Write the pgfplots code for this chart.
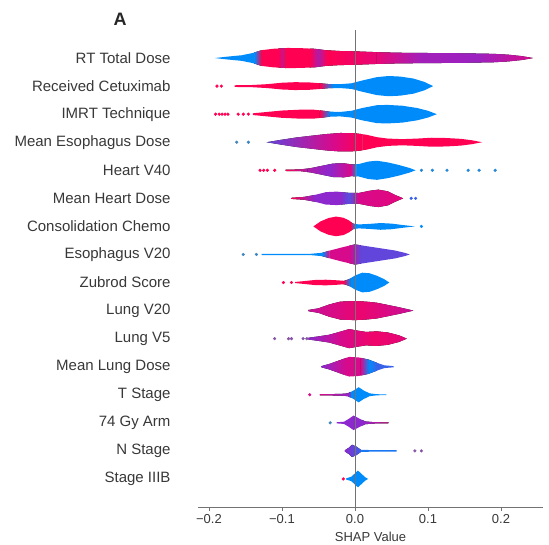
\documentclass[border=0pt]{standalone}
\usepackage{fontspec}
\setmainfont{Liberation Sans}
\usepackage{pgfplots}
\pgfplotsset{compat=1.18}
\usepackage{pgfplotstable}
\usepgfplotslibrary{fillbetween}

\definecolor{sr}{RGB}{255,0,82}
\definecolor{sb}{RGB}{0,139,251}
\definecolor{sp}{RGB}{140,40,205}
\definecolor{sm}{RGB}{215,10,140}

% violin profiles: x = SHAP value, w = half width (row units)
\pgfplotstableread{
x w
-0.192 0
-0.175 0.05
-0.155 0.10
-0.140 0.18
-0.128 0.28
-0.112 0.33
-0.092 0.36
-0.072 0.35
-0.055 0.33
-0.040 0.28
-0.020 0.25
0.000 0.24
0.030 0.21
0.060 0.19
0.100 0.18
0.150 0.17
0.190 0.15
0.210 0.12
0.228 0.07
0.244 0
}\tRT
\pgfplotstableread{
x w
-0.165 0.03
-0.140 0.04
-0.120 0.07
-0.100 0.12
-0.082 0.14
-0.062 0.13
-0.047 0.10
-0.035 0.07
-0.020 0.07
-0.005 0.10
0.010 0.20
0.030 0.32
0.046 0.36
0.062 0.34
0.080 0.27
0.095 0.15
0.107 0
}\tCet
\pgfplotstableread{
x w
-0.140 0.03
-0.120 0.08
-0.100 0.13
-0.075 0.16
-0.057 0.16
-0.046 0.13
-0.035 0.09
-0.020 0.08
-0.005 0.12
0.010 0.22
0.030 0.32
0.045 0.33
0.065 0.30
0.085 0.22
0.100 0.12
0.112 0
}\tIMRT
\pgfplotstableread{
x w
-0.121 0
-0.100 0.09
-0.080 0.17
-0.060 0.23
-0.040 0.29
-0.020 0.33
0.000 0.32
0.015 0.27
0.030 0.18
0.045 0.13
0.065 0.11
0.085 0.13
0.105 0.16
0.125 0.15
0.145 0.12
0.160 0.07
0.174 0
}\tMEso
\pgfplotstableread{
x w
-0.095 0.025
-0.075 0.03
-0.060 0.08
-0.045 0.16
-0.030 0.24
-0.015 0.25
-0.005 0.21
0.005 0.22
0.018 0.31
0.030 0.34
0.045 0.28
0.060 0.19
0.075 0.08
0.083 0
}\tHV
\pgfplotstableread{
x w
-0.087 0.02
-0.070 0.05
-0.055 0.12
-0.040 0.22
-0.025 0.24
-0.010 0.20
0.005 0.19
0.020 0.27
0.032 0.31
0.045 0.25
0.055 0.12
0.066 0
}\tMHD
\pgfplotstableread{
x w
-0.057 0
-0.047 0.18
-0.036 0.30
-0.026 0.35
-0.016 0.31
-0.008 0.21
-0.003 0.10
0.005 0.07
0.020 0.09
0.035 0.12
0.050 0.10
0.065 0.05
0.082 0
}\tCons
\pgfplotstableread{
x w
-0.128 0.02
-0.060 0.025
-0.045 0.06
-0.030 0.17
-0.015 0.27
0.000 0.36
0.015 0.30
0.035 0.22
0.055 0.14
0.068 0.06
0.075 0
}\tEV
\pgfplotstableread{
x w
-0.082 0.02
-0.070 0.05
-0.055 0.09
-0.040 0.10
-0.025 0.08
-0.015 0.06
-0.008 0.12
0.000 0.25
0.010 0.35
0.020 0.33
0.030 0.24
0.040 0.12
0.047 0
}\tZub
\pgfplotstableread{
x w
-0.064 0.02
-0.050 0.08
-0.035 0.22
-0.020 0.32
0.000 0.34
0.015 0.32
0.030 0.28
0.045 0.20
0.060 0.12
0.070 0.06
0.080 0
}\tLVtw
\pgfplotstableread{
x w
-0.064 0.03
-0.050 0.08
-0.035 0.14
-0.020 0.25
-0.008 0.34
0.005 0.28
0.015 0.24
0.030 0.26
0.045 0.22
0.060 0.12
0.071 0
}\tLVf
\pgfplotstableread{
x w
-0.046 0.02
-0.035 0.10
-0.020 0.24
-0.008 0.35
0.005 0.33
0.018 0.26
0.030 0.14
0.040 0.05
0.053 0.02
}\tMLD
\pgfplotstableread{
x w
-0.048 0.02
-0.020 0.03
-0.010 0.05
-0.002 0.15
0.005 0.27
0.012 0.15
0.020 0.05
0.030 0.02
0.043 0.01
}\tTS
\pgfplotstableread{
x w
-0.025 0.02
-0.015 0.04
-0.008 0.15
-0.002 0.26
0.006 0.15
0.014 0.05
0.025 0.025
0.046 0.015
}\tGy
\pgfplotstableread{
x w
-0.014 0.02
-0.008 0.12
-0.004 0.22
0.002 0.15
0.008 0.04
0.020 0.03
0.057 0.025
}\tNS
\pgfplotstableread{
x w
-0.012 0.02
-0.005 0.08
0.000 0.20
0.004 0.30
0.009 0.18
0.014 0.06
0.018 0
}\tIIIB

\newcommand{\violin}[3]{%
  \addplot[draw=none, name path=u#1] table[x=x, y expr={#2+\thisrow{w}}] {#3};
  \addplot[draw=none, name path=l#1] table[x=x, y expr={#2-\thisrow{w}}] {#3};
}
\newcommand{\seg}[3]{%
  \addplot[draw=none, #3] fill between[of=u#1 and l#1, soft clip={domain=#2}];
}

\begin{document}
\begin{tikzpicture}
\path (0,0) rectangle (549pt,543pt);
\begin{axis}[
  at={(198pt,36pt)}, anchor=south west,
  scale only axis, width=345pt, height=477pt,
  xmin=-0.215, xmax=0.2575, ymin=-1, ymax=16,
  axis x line*=bottom, axis y line*=left,
  y axis line style={draw=none}, ytick style={draw=none},
  x axis line style={black!55, line width=0.8pt},
  xtick style={black!55, line width=0.8pt},
  tick align=outside, major tick length=4pt,
  ytick={0,...,15},
  yticklabels={Stage IIIB, N Stage, 74 Gy Arm, T Stage, Mean Lung Dose, Lung V5, Lung V20, Zubrod Score, Esophagus V20, Consolidation Chemo, Mean Heart Dose, Heart V40, Mean Esophagus Dose, IMRT Technique, Received Cetuximab, RT Total Dose},
  yticklabel style={font=\fontsize{15}{17}\selectfont, text=black!78, xshift=-20pt},
  xtick={-0.2,-0.1,0,0.1,0.2},
  xticklabels={−0.2,−0.1,0.0,0.1,0.2},
  xticklabel style={font=\fontsize{13}{15}\selectfont, text=black!78},
  xlabel={SHAP Value},
  xlabel style={font=\fontsize{13}{15}\selectfont, text=black!78, yshift=-1pt},
]
% RT Total Dose
\violin{RT}{15}{\tRT}
\seg{RT}{-0.2:-0.138}{fill=sb}
\seg{RT}{-0.138:-0.128}{left color=sb, right color=sr}
\seg{RT}{-0.128:-0.105}{fill=sr}
\seg{RT}{-0.105:-0.095}{left color=sr, right color=sr, middle color=sr!55!sp}
\seg{RT}{-0.095:-0.062}{fill=sr}
\seg{RT}{-0.062:-0.038}{left color=sr, right color=sr, middle color=sp!70!sr}
\seg{RT}{-0.038:0.03}{left color=sr, right color=sm!60!sr}
\seg{RT}{0.03:0.09}{left color=sm!60!sr, right color=sp!70!sm}
\seg{RT}{0.09:0.25}{left color=sp!70!sm, right color=sm, middle color=sp!80!sm}
% Received Cetuximab
\violin{Cet}{14}{\tCet}
\seg{Cet}{-0.2:-0.048}{fill=sr}
\seg{Cet}{-0.048:-0.03}{left color=sr, right color=sb}
\seg{Cet}{-0.03:0.12}{fill=sb}
\addplot[only marks, mark=*, mark size=1.4pt, sr] coordinates {(-0.189,14) (-0.183,14)};
% IMRT Technique
\violin{IMRT}{13}{\tIMRT}
\seg{IMRT}{-0.2:-0.048}{fill=sr}
\seg{IMRT}{-0.048:-0.034}{left color=sr, right color=sb}
\seg{IMRT}{-0.034:0.12}{fill=sb}
\addplot[only marks, mark=*, mark size=1.4pt, sr] coordinates {(-0.191,13) (-0.186,13) (-0.182,13) (-0.178,13) (-0.174,13) (-0.160,13) (-0.153,13) (-0.146,13)};
% Mean Esophagus Dose
\violin{MEso}{12}{\tMEso}
\seg{MEso}{-0.13:-0.03}{left color=sp!70!sb, right color=sm}
\seg{MEso}{-0.03:0.01}{left color=sm, right color=sr}
\seg{MEso}{0.01:0.18}{fill=sr}
\addplot[only marks, mark=*, mark size=1.4pt, sb!50!gray] coordinates {(-0.162,12) (-0.146,12)};
% Heart V40
\violin{HV}{11}{\tHV}
\seg{HV}{-0.1:-0.065}{left color=sr, right color=sp!70!sr}
\seg{HV}{-0.065:-0.006}{left color=sp!70!sr, right color=sm, middle color=sp}
\seg{HV}{-0.006:0.002}{left color=sm, right color=sb}
\seg{HV}{0.002:0.09}{fill=sb}
\addplot[only marks, mark=*, mark size=1.4pt, sr] coordinates {(-0.130,11) (-0.125,11) (-0.120,11) (-0.110,11)};
\addplot[only marks, mark=*, mark size=1.4pt, sb!70!gray] coordinates {(0.091,11) (0.106,11) (0.126,11) (0.155,11) (0.170,11) (0.192,11)};
% Mean Heart Dose
\violin{MHD}{10}{\tMHD}
\seg{MHD}{-0.09:-0.055}{left color=sr, right color=sp}
\seg{MHD}{-0.055:-0.02}{fill=sp}
\seg{MHD}{-0.02:0.005}{left color=sp, right color=sm, middle color=sp!60!sb}
\seg{MHD}{0.005:0.07}{left color=sm, right color=sm!70!sr}
\addplot[only marks, mark=*, mark size=1.4pt, sb!60!sp] coordinates {(0.077,10) (0.083,10)};
% Consolidation Chemo
\violin{Cons}{9}{\tCons}
\seg{Cons}{-0.06:-0.006}{fill=sr}
\seg{Cons}{-0.006:0.0}{left color=sr, right color=sb}
\seg{Cons}{0.0:0.09}{fill=sb}
\addplot[only marks, mark=*, mark size=1.4pt, sb] coordinates {(0.091,9)};
% Esophagus V20
\violin{EV}{8}{\tEV}
\seg{EV}{-0.13:-0.045}{fill=sb}
\seg{EV}{-0.045:-0.035}{left color=sb, right color=sm}
\seg{EV}{-0.035:-0.008}{fill=sm}
\seg{EV}{-0.008:0.008}{left color=sm, right color=sp!70!sb}
\seg{EV}{0.008:0.08}{fill=sp!70!sb}
\addplot[only marks, mark=*, mark size=1.4pt, sb!50!gray] coordinates {(-0.153,8) (-0.135,8)};
% Zubrod Score
\violin{Zub}{7}{\tZub}
\seg{Zub}{-0.09:-0.016}{fill=sr}
\seg{Zub}{-0.016:-0.006}{left color=sr, right color=sb}
\seg{Zub}{-0.006:0.05}{fill=sb}
\addplot[only marks, mark=*, mark size=1.4pt, sr] coordinates {(-0.098,7) (-0.087,7)};
% Lung V20
\violin{LVtw}{6}{\tLVtw}
\seg{LVtw}{-0.07:0.085}{left color=sm!80!sp, right color=sm!80!sp, middle color=sr!50!sm}
% Lung V5
\violin{LVf}{5}{\tLVf}
\seg{LVf}{-0.07:-0.02}{left color=sp, right color=sm}
\seg{LVf}{-0.02:0.075}{left color=sm, right color=sm!70!sr, middle color=sr!60!sm}
\addplot[only marks, mark=*, mark size=1.4pt, sp!50!gray] coordinates {(-0.110,5) (-0.091,5) (-0.087,5) (-0.071,5) (-0.066,5)};
% Mean Lung Dose
\violin{MLD}{4}{\tMLD}
\seg{MLD}{-0.05:-0.012}{left color=sp, right color=sm}
\seg{MLD}{-0.012:0.008}{fill=sm}
\seg{MLD}{0.008:0.03}{left color=sm, right color=sb!60!sp, middle color=sb}
\seg{MLD}{0.03:0.06}{fill=sb!60!sp}
% T Stage
\violin{TS}{3}{\tTS}
\seg{TS}{-0.05:-0.006}{left color=sm, right color=sp}
\seg{TS}{-0.006:0.05}{fill=sb}
\addplot[only marks, mark=*, mark size=1.4pt, sm] coordinates {(-0.062,3)};
% 74 Gy Arm
\violin{Gy}{2}{\tGy}
\seg{Gy}{-0.03:0.01}{fill=sp}
\seg{Gy}{0.01:0.05}{left color=sp, right color=sm}
\addplot[only marks, mark=*, mark size=1.4pt, sb!50!gray] coordinates {(-0.034,2)};
% N Stage
\violin{NS}{1}{\tNS}
\seg{NS}{-0.02:0.008}{left color=sp, right color=sp!40!sb}
\seg{NS}{0.008:0.06}{fill=sb!80!sp}
\addplot[only marks, mark=*, mark size=1.4pt, sp!50!gray] coordinates {(0.082,1) (0.091,1)};
% Stage IIIB
\violin{IIIB}{0}{\tIIIB}
\seg{IIIB}{-0.02:0.02}{fill=sb}
\addplot[only marks, mark=*, mark size=1.4pt, sr] coordinates {(-0.016,0)};
% zero line
\addplot[black!55, line width=0.7pt] coordinates {(0,-1) (0,16)};
\end{axis}
\node[font=\bfseries\fontsize{18}{20}\selectfont, text=black!85] at (120pt,524pt) {A};
\end{tikzpicture}
\end{document}
